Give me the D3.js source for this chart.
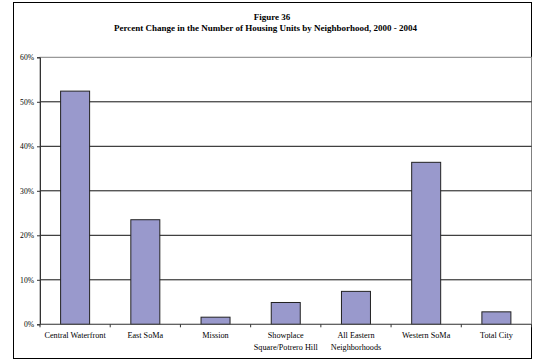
<!DOCTYPE html>
<html><head><meta charset="utf-8">
<script src="https://cdn.jsdelivr.net/npm/d3@7"></script>
<style>body{margin:0;background:#fff}svg{display:block}</style>
</head><body>
<svg id="c" width="533" height="360"></svg>
<script>
const categories = [["Central Waterfront"],["East SoMa"],["Mission"],["Showplace","Square/Potrero Hill"],["All Eastern","Neighborhoods"],["Western SoMa"],["Total City"]];
const values = [52.4, 23.5, 1.6, 4.9, 7.4, 36.4, 2.8];
const yTicks = [0,10,20,30,40,50,60];
const titleLines = ["Figure 36","Percent Change in the Number of Housing Units by Neighborhood, 2000 - 2004"];

const svg = d3.select("#c");
const font = "'Liberation Serif','Times New Roman',serif";
const L=40, R=531.5, T=57.3, B=324.3;

svg.append("rect").attr("x",13.5).attr("y",2.5).attr("width",518).attr("height",356)
  .attr("fill","#fff").attr("stroke","#000").attr("stroke-width",1);

const x = d3.scaleBand().domain(d3.range(categories.length)).range([L,R]).paddingInner(0).paddingOuter(0);
const y = d3.scaleLinear().domain([0,60]).range([B,T]);

// plot border
svg.append("rect").attr("x",L).attr("y",T).attr("width",R-L).attr("height",B-T)
  .attr("fill","none").attr("stroke","#808080").attr("stroke-width",1);

// gridlines
svg.append("g").selectAll("line").data(yTicks.filter(d=>d>0 && d<60)).join("line")
  .attr("x1",L).attr("x2",R).attr("y1",d=>y(d)).attr("y2",d=>y(d))
  .attr("stroke","#111").attr("stroke-width",1);

// bars
const bw = 29;
svg.append("g").selectAll("rect").data(values).join("rect")
  .attr("x",(d,i)=>x(i)+x.bandwidth()/2-bw/2).attr("width",bw)
  .attr("y",d=>y(d)).attr("height",d=>B-y(d))
  .attr("fill","#9999cc").attr("stroke","#222").attr("stroke-width",1);

// y axis
const ya = svg.append("g").attr("transform",`translate(${L},0)`)
  .call(d3.axisLeft(y).tickValues(yTicks).tickFormat(d=>d+"%").tickSize(3).tickPadding(3));
ya.select(".domain").attr("stroke","#333");
ya.selectAll(".tick line").attr("stroke","#333");
ya.selectAll("text").attr("font-family",font).attr("font-size",7.6).attr("fill","#000");

// x axis
const xa = svg.append("g").attr("transform",`translate(0,${B})`);
xa.append("line").attr("x1",L).attr("x2",R).attr("stroke","#555");
xa.selectAll("line.t").data(d3.range(categories.length+1)).join("line").attr("class","t")
  .attr("x1",i=>L+i*x.step()).attr("x2",i=>L+i*x.step()).attr("y1",0).attr("y2",3).attr("stroke","#333");
const lbl = xa.selectAll("text").data(categories).join("text")
  .attr("font-family",font).attr("font-size",8.2).attr("text-anchor","middle").attr("fill","#000");
lbl.selectAll("tspan").data((d,i)=>d.map(s=>({s,i}))).join("tspan")
  .attr("x",d=>x(d.i)+x.bandwidth()/2).attr("y",(d,j)=>14+j*12).text(d=>d.s);

// title
svg.append("text").attr("x",272).attr("y",19.5).attr("text-anchor","middle").attr("font-family",font)
  .attr("font-weight","bold").attr("font-size",9).text(titleLines[0]);
svg.append("text").attr("x",265.5).attr("y",30.5).attr("text-anchor","middle").attr("font-family",font)
  .attr("font-weight","bold").attr("font-size",9).text(titleLines[1]);
</script>
</body></html>
